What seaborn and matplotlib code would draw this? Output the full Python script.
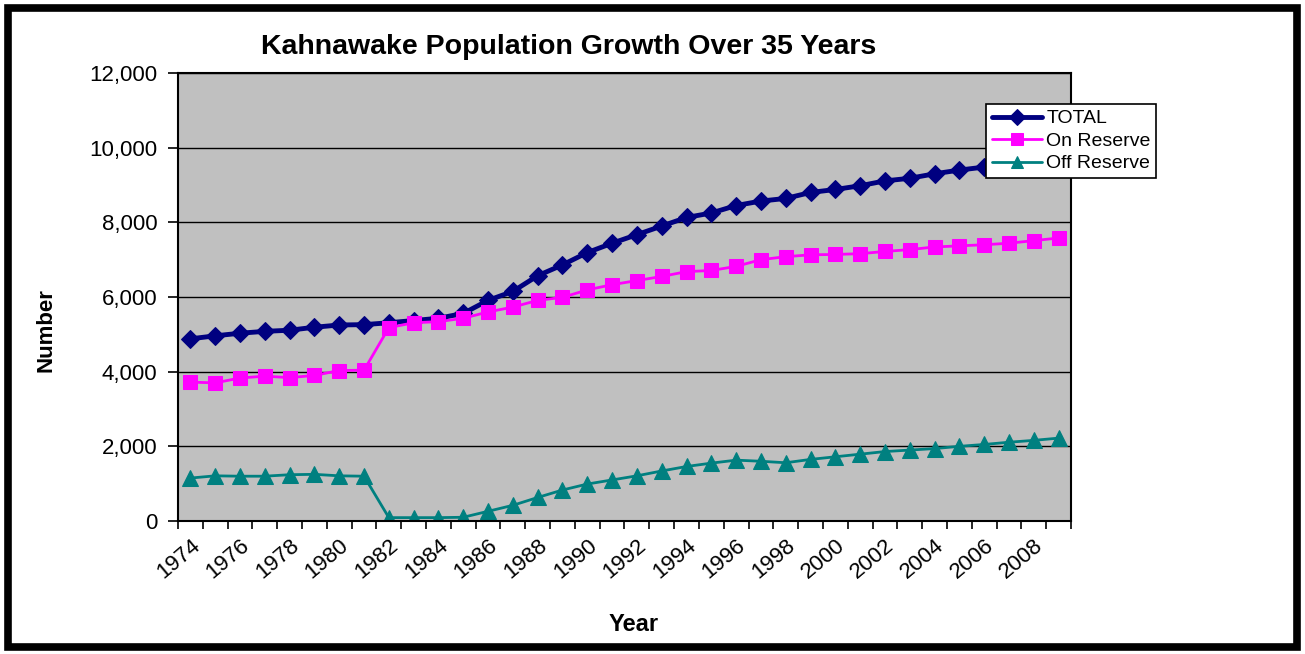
import pandas as pd
import numpy as np

import seaborn as sns
import matplotlib.pyplot as plt
from matplotlib.patches import Rectangle
from matplotlib.ticker import StrMethodFormatter

years = list(range(1974, 2010))
total = [4880, 4960, 5030, 5080, 5110, 5190, 5250, 5260, 5310, 5370, 5430, 5560,
         5910, 6150, 6570, 6860, 7190, 7440, 7670, 7900, 8130, 8250, 8450, 8570,
         8640, 8800, 8880, 8980, 9110, 9180, 9300, 9400, 9480, 9580, 9680, 9780]
on_reserve = [3720, 3700, 3830, 3880, 3840, 3900, 4030, 4040, 5180, 5310, 5340, 5430,
              5600, 5730, 5910, 5990, 6190, 6330, 6440, 6550, 6680, 6710, 6820, 7000,
              7080, 7130, 7140, 7160, 7220, 7270, 7340, 7370, 7400, 7440, 7510, 7580]
off_reserve = [1150, 1210, 1200, 1200, 1240, 1250, 1210, 1200, 90, 90, 90, 100,
               260, 420, 630, 830, 990, 1100, 1210, 1340, 1460, 1550, 1630, 1600,
               1560, 1650, 1720, 1790, 1860, 1900, 1940, 2000, 2050, 2110, 2160, 2220]

df = pd.DataFrame({'Year': years, 'TOTAL': total,
                   'On Reserve': on_reserve, 'Off Reserve': off_reserve})

sns.set_theme(style="white")
plt.rcParams['font.family'] = ['Liberation Sans', 'DejaVu Sans']
plt.rcParams['text.color'] = 'black'
plt.rcParams['axes.labelcolor'] = 'black'
plt.rcParams['xtick.color'] = 'black'
plt.rcParams['ytick.color'] = 'black'

fig = plt.figure(figsize=(13.05, 6.54), dpi=100)
ax = fig.add_axes([178/1305, 1-521/654, (1071-178)/1305, (521-73)/654])
ax.set_facecolor('#C0C0C0')

sns.lineplot(x='Year', y='TOTAL', data=df, ax=ax, color='#000080', marker='D',
             markersize=9.5, markeredgecolor='#000080', linewidth=3.5, label='TOTAL')
sns.lineplot(x='Year', y='On Reserve', data=df, ax=ax, color='#FF00FF', marker='s',
             markersize=10.5, markeredgecolor='#FF00FF', linewidth=2, label='On Reserve')
sns.lineplot(x='Year', y='Off Reserve', data=df, ax=ax, color='#008080', marker='^',
             markersize=11, markeredgecolor='#008080', linewidth=2, label='Off Reserve')

ax.set_xlim(1973.5, 2009.5)
ax.set_ylim(0, 12000)
ax.set_yticks(range(0, 12001, 2000))
ax.yaxis.set_major_formatter(StrMethodFormatter('{x:,.0f}'))
ax.grid(axis='y', color='black', linewidth=1)
ax.set_axisbelow(True)
for s in ax.spines.values():
    s.set_color('black')
    s.set_linewidth(1.5)

ax.set_xticks(years[::2])
ax.set_xticklabels([str(y) for y in years[::2]], rotation=40, ha='right',
                   rotation_mode='anchor', fontsize=16)
ax.set_xticks(np.arange(1973.5, 2010, 1), minor=True)
ax.tick_params(axis='x', which='major', length=0, pad=10)
ax.tick_params(axis='x', which='minor', bottom=True, length=6, width=1.2, color='black')
ax.tick_params(axis='y', left=True, length=7, width=1.2, color='black', labelsize=16,
               pad=8)

ax.set_xlabel('Year', fontsize=17, fontweight='bold')
ax.set_ylabel('Number', fontsize=16, fontweight='bold')
ax.xaxis.set_label_coords(0.51, -0.205)
ax.yaxis.set_label_coords(-0.1355, 0.426)

fig.text(569/1305, 1-47/654, 'Kahnawake Population Growth Over 35 Years',
         ha='center', va='center', fontsize=20.5, fontweight='bold')

leg = ax.legend(loc='upper left', bbox_to_anchor=(986/1305, 1-104/654),
                bbox_transform=fig.transFigure, borderaxespad=0, fancybox=False,
                framealpha=1, edgecolor='black', fontsize=14, handlelength=2.6,
                labelspacing=0.25, borderpad=0.3, handletextpad=0.2)
leg.get_frame().set_linewidth(1.2)
for h in leg.legend_handles:
    h.set_markersize(8)

fig.patches.append(Rectangle((8/1305, 7/654), 1289/1305, 639/654, fill=False,
                             edgecolor='black', linewidth=5.5, transform=fig.transFigure))

plt.savefig('out.png', dpi=100)
